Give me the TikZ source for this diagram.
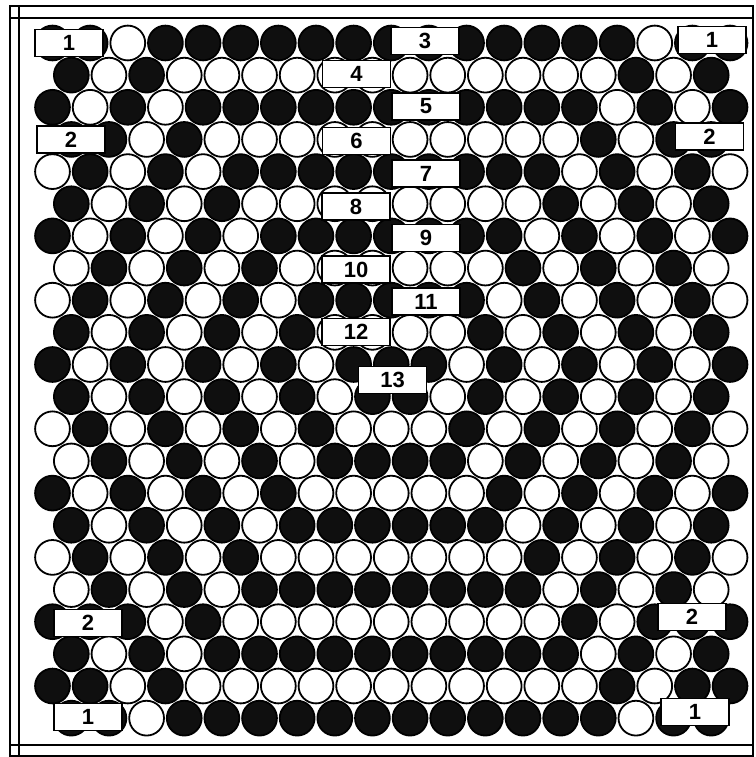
\documentclass[tikz,border=0pt]{standalone}
\usepackage{fontspec}
\setmainfont{Liberation Sans}
\definecolor{B}{gray}{0.06}
\definecolor{W}{gray}{1}
\begin{document}
\begin{tikzpicture}[x=1pt,y=-1pt,
  disc/.style={draw=black,line width=1.8pt},
  frameline/.style={draw=black,line width=1.3pt},
  lab/.style={draw=black,line width=1.6pt,fill=white,minimum width=68pt,minimum height=27pt,inner sep=0pt,font=\fontsize{22}{22}\selectfont\bfseries}]
\useasboundingbox (0,0) rectangle (755,757);
\fill[white] (0,0) rectangle (755,757);
% frame
\draw[frameline] (10,757) -- (10,6) -- (753,6) -- (753,757);
\draw[frameline] (19,6) -- (19,757);
\draw[frameline] (10,18) -- (753,18);
\draw[frameline] (10,745) -- (753,745);
\draw[frameline] (10,756) -- (753,756);
% circles
\foreach \r/\s in {
 1/{B,B,W,B,B,B,B,B,B, B, B,B,B,B,B,B,W,B,B},
 2/{B,W,B,W,W,W,W,W,W, W,W,W,W,W,W,B,W,B},
 3/{B,W,B,W,B,B,B,B,B, B, B,B,B,B,B,W,B,W,B},
 4/{B,B,W,B,W,W,W,W,W, W,W,W,W,W,B,W,B,B},
 5/{W,B,W,B,W,B,B,B,B, B, B,B,B,B,W,B,W,B,W},
 6/{B,W,B,W,B,W,W,W,W, W,W,W,W,B,W,B,W,B},
 7/{B,W,B,W,B,W,B,B,B, B, B,B,B,W,B,W,B,W,B},
 8/{W,B,W,B,W,B,W,W,W, W,W,W,B,W,B,W,B,W},
 9/{W,B,W,B,W,B,W,B,B, B, B,B,W,B,W,B,W,B,W},
 10/{B,W,B,W,B,W,B,W,W, W,W,B,W,B,W,B,W,B},
 11/{B,W,B,W,B,W,B,W,B, B, B,W,B,W,B,W,B,W,B},
 12/{B,W,B,W,B,W,B,W,B, B,W,B,W,B,W,B,W,B},
 13/{W,B,W,B,W,B,W,B,W, W, W,B,W,B,W,B,W,B,W},
 14/{W,B,W,B,W,B,W,B,B, B,B,W,B,W,B,W,B,W},
 15/{B,W,B,W,B,W,B,W,W, W, W,W,B,W,B,W,B,W,B},
 16/{B,W,B,W,B,W,B,B,B, B,B,B,W,B,W,B,W,B},
 17/{W,B,W,B,W,B,W,W,W, W, W,W,W,B,W,B,W,B,W},
 18/{W,B,W,B,W,B,B,B,B, B,B,B,B,W,B,W,B,W},
 19/{B,B,B,W,B,W,W,W,W, W, W,W,W,W,B,W,B,B,B},
 20/{B,W,B,W,B,B,B,B,B, B,B,B,B,B,W,B,W,B},
 21/{B,B,W,B,W,W,W,W,W, W, W,W,W,W,W,B,W,B,B},
 22/{B,B,W,B,B,B,B,B,B, B,B,B,B,B,B,W,B,B}} {
  \pgfmathsetmacro\yy{43+32.15*(\r-1)}
  \pgfmathsetmacro\xo{52.5+18.82*(1-mod(\r,2))}
  \foreach \c [count=\k from 0] in \s {
    \draw[disc,fill=\c] (\xo+37.64*\k,\yy) circle[radius=17.4];
  }
}
% labels
\node[lab] (c1a) at (69,43) {1};
\node[lab] (c1b) at (712,40) {1};
\node[lab] (m3) at (425,41) {3};
\node[lab] (m4) at (356.5,74) {4};
\node[lab] (m5) at (426,106.5) {5};
\node[lab] (c2a) at (71,139.5) {2};
\node[lab] (m6) at (356.5,141) {6};
\node[lab] (c2b) at (709.5,136.5) {2};
\node[lab] (m7) at (426,173.5) {7};
\node[lab] (m8) at (356,206.5) {8};
\node[lab] (m9) at (426,238) {9};
\node[lab] (m10) at (356,269.5) {10};
\node[lab] (m11) at (426,301.5) {11};
\node[lab] (m12) at (356,332) {12};
\node[lab] (m13) at (392.5,380) {13};
\node[lab] (c2c) at (88,623) {2};
\node[lab] (c2d) at (692,617) {2};
\node[lab] (c1c) at (88,717) {1};
\node[lab] (c1d) at (695,712) {1};
\end{tikzpicture}
\end{document}
